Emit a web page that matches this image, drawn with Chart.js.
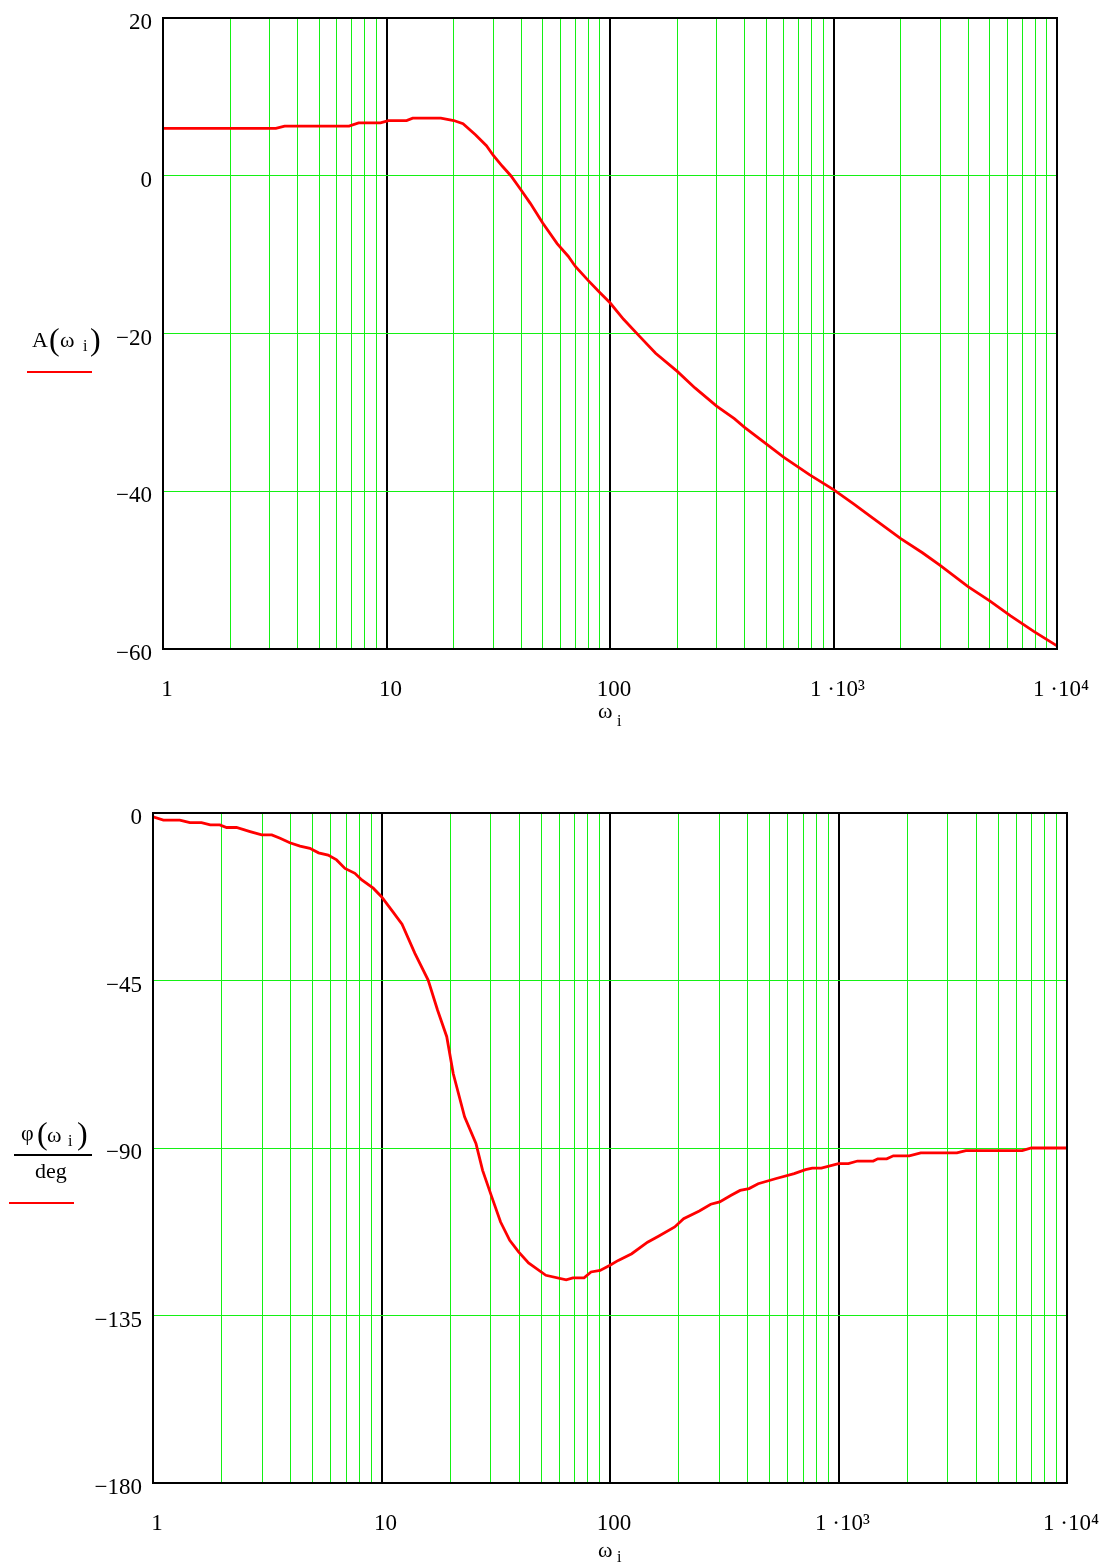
<!DOCTYPE html>
<html>
<head>
<meta charset="utf-8">
<script src="https://cdn.jsdelivr.net/npm/chart.js@4.4.1/dist/chart.umd.min.js"></script>
<style>
  html, body { margin: 0; padding: 0; background: #fff; }
  #wrap { position: relative; width: 1103px; height: 1565px; }
  canvas { position: absolute; left: 0; }
  #ampChart { top: 0; }
  #phaseChart { top: 760px; }
</style>
</head>
<body>
<div id="wrap">
  <canvas id="ampChart" width="1103" height="760"></canvas>
  <canvas id="phaseChart" width="1103" height="805"></canvas>
</div>
<script>
// frequency points and amplitude A(w), dB
const ampOmega = [1, 3.2, 3.5, 6.8, 7.5, 9.4, 10.2, 12.3, 13.1, 17.5, 20, 22, 25, 28, 30, 33, 36, 40, 44, 50,
  58, 65, 70, 80, 90, 100, 115, 135, 160, 200, 240, 300, 360, 400, 500, 600, 780, 1000, 1230, 1500,
  2000, 2500, 3000, 4000, 5000, 6200, 7900, 10000]
const ampDb = [6.0, 6.0, 6.3, 6.3, 6.7, 6.7, 7.0, 7.0, 7.3, 7.3, 7.0, 6.6, 5.2, 3.8, 2.6, 1.2, 0.0, -1.8, -3.5, -6.0,
  -8.6, -10.2, -11.5, -13.3, -14.8, -16.1, -18.2, -20.3, -22.5, -24.8, -26.9, -29.2, -30.8, -31.9, -34.0, -35.7, -37.9, -39.8, -41.6, -43.4,
  -46.0, -47.8, -49.4, -52.1, -53.9, -55.8, -57.8, -59.6]

// frequency points and phase phi(w)/deg
const phaseOmega = [1, 1.11, 1.31, 1.45, 1.63, 1.78, 1.96, 2.1, 2.32, 2.66, 2.99, 3.31, 3.6, 3.97, 4.4, 4.86, 5.3, 5.84, 6.36, 6.92,
  7.65, 8.2, 9.2, 10, 11.2, 12.3, 14, 16, 17.6, 19.3, 20.6, 23.1, 25.9, 27.7, 30.4, 33.2, 36.4, 39.8, 44, 52.4,
  64.3, 68.8, 77, 82.6, 90.5, 100, 108.7, 124.5, 146, 163, 192, 210, 246, 276, 302, 339, 371, 406, 445, 534,
  640, 717, 768, 841, 1000, 1105, 1211, 1419, 1486, 1626, 1738, 2041, 2290, 3296, 3608, 6368, 6980, 10000]
const phaseDeg = [-1.0, -1.9, -1.9, -2.6, -2.6, -3.2, -3.2, -3.9, -3.9, -5.0, -5.9, -5.9, -6.8, -8.0, -8.9, -9.5, -10.7, -11.3, -12.6, -14.9,
  -16.2, -18.0, -20.2, -22.5, -26.5, -29.9, -37.7, -44.9, -53.0, -60.1, -70.0, -81.6, -88.8, -96.0, -103.2, -109.9, -114.8, -117.9, -120.9, -124.2,
  -125.4, -124.9, -124.9, -123.3, -122.9, -121.5, -120.2, -118.4, -115.3, -113.7, -111.2, -109.0, -106.9, -105.1, -104.5, -102.7, -101.4, -100.9, -99.6, -98.2,
  -96.9, -95.8, -95.4, -95.4, -94.2, -94.2, -93.5, -93.5, -92.9, -92.9, -92.1, -92.1, -91.3, -91.3, -90.7, -90.7, -90.0, -90.0]

// grid / tick values
const gridOmega = [1, 2, 3, 4, 5, 6, 7, 8, 9, 10, 20, 30, 40, 50, 60, 70, 80, 90, 100,
  200, 300, 400, 500, 600, 700, 800, 900, 1000, 2000, 3000, 4000, 5000, 6000, 7000, 8000, 9000, 10000]
const decadeValues = [1, 10, 100, 1000, 10000]
const decadeLabels = ['1', '10', '100', '1 \u00b710\u00b3', '1 \u00b710\u2074']
const ampTicks = [20, 0, -20, -40, -60]
const phaseTicks = [0, -45, -90, -135, -180]

const GREEN = 'rgb(20,240,20)'
const RED = '#ff0000'
const SERIF = "'Liberation Serif', 'Times New Roman', serif"

function minusLabel(v) {
  return v < 0 ? '\u2212' + Math.abs(v) : String(v)
}

const framePlugin = {
  id: 'frame',
  afterDatasetsDraw(chart) {
    const a = chart.chartArea
    const ctx = chart.ctx
    ctx.save()
    ctx.strokeStyle = '#000'
    ctx.lineWidth = 2
    ctx.strokeRect(a.left, a.top, a.right - a.left, a.bottom - a.top)
    ctx.restore()
  },
}

function txt(ctx, s, x, y, size) {
  ctx.font = size + 'px ' + SERIF
  ctx.fillText(s, x, y)
}

function hline(ctx, x1, x2, y, color) {
  ctx.strokeStyle = color
  ctx.lineWidth = 2
  ctx.beginPath()
  ctx.moveTo(x1, y)
  ctx.lineTo(x2, y)
  ctx.stroke()
}

function makeChart(id, omega, values, yMin, yMax, yTicks, yWidth, xHeight, pad, titles) {
  const ctx = document.getElementById(id).getContext('2d')
  return new Chart(ctx, {
    type: 'line',
    data: {
      datasets: [
        {
          data: omega.map((w, i) => ({ x: w, y: values[i] })),
          borderColor: RED,
          borderWidth: 2.8,
          pointRadius: 0,
          tension: 0,
          fill: false,
        },
      ],
    },
    options: {
      responsive: false,
      animation: false,
      events: [],
      layout: { padding: pad },
      plugins: { legend: { display: false }, tooltip: { enabled: false } },
      scales: {
        x: {
          type: 'logarithmic',
          min: 1,
          max: 10000,
          afterBuildTicks: (s) => {
            s.ticks = gridOmega.map((v) => ({ value: v }))
          },
          afterFit: (s) => {
            s.height = xHeight
            s.paddingLeft = 0
            s.paddingRight = 0
          },
          border: { display: false },
          grid: {
            drawTicks: false,
            color: (c) => (decadeValues.includes(c.tick.value) ? '#000' : GREEN),
            lineWidth: (c) => (decadeValues.includes(c.tick.value) ? 2 : 1),
          },
          ticks: {
            autoSkip: false,
            maxRotation: 0,
            padding: 27,
            labelOffset: 4,
            color: '#000',
            font: { family: SERIF, size: 23 },
            callback: (v) => {
              const k = decadeValues.indexOf(v)
              return k < 0 ? '' : decadeLabels[k]
            },
          },
        },
        y: {
          type: 'linear',
          min: yMin,
          max: yMax,
          afterBuildTicks: (s) => {
            s.ticks = yTicks.map((v) => ({ value: v }))
          },
          afterFit: (s) => {
            s.width = yWidth
            s.paddingTop = 0
            s.paddingBottom = 0
          },
          border: { display: false },
          grid: { drawTicks: false, color: GREEN, lineWidth: 1 },
          ticks: {
            padding: 11,
            labelOffset: 5,
            color: '#000',
            font: { family: SERIF, size: 23 },
            callback: (v) => minusLabel(v),
          },
        },
      },
    },
    plugins: [
      framePlugin,
      {
        id: 'titles',
        afterDraw(chart) {
          const c = chart.ctx
          c.save()
          c.fillStyle = '#000'
          c.textBaseline = 'alphabetic'
          c.textAlign = 'left'
          titles(c)
          c.restore()
        },
      },
    ],
  })
}

// amplitude chart: plot area 163..1057 x 18..649
makeChart('ampChart', ampOmega, ampDb, -60, 20, ampTicks, 163, 111,
  { top: 18, right: 46, left: 0, bottom: 0 }, (c) => {
    txt(c, 'A', 32, 347, 22)
    txt(c, '(', 49, 350, 32)
    txt(c, '\u03c9', 60, 347, 22)
    txt(c, 'i', 83, 351, 16)
    txt(c, ')', 90, 350, 32)
    hline(c, 27, 92, 372, RED)
    txt(c, '\u03c9', 598, 718, 22)
    txt(c, 'i', 617, 726, 16)
  })

// phase chart: plot area 153..1067 x 813..1483 (canvas offset 760)
makeChart('phaseChart', phaseOmega, phaseDeg, -180, 0, phaseTicks, 153, 82,
  { top: 53, right: 36, left: 0, bottom: 0 }, (c) => {
    const o = 760
    txt(c, '\u03c6', 21, 1140 - o, 22)
    txt(c, '(', 37, 1144 - o, 32)
    txt(c, '\u03c9', 47, 1142 - o, 22)
    txt(c, 'i', 68, 1146 - o, 16)
    txt(c, ')', 77, 1144 - o, 32)
    hline(c, 14, 92, 1155 - o, '#000')
    txt(c, 'deg', 35, 1178 - o, 22)
    hline(c, 9, 74, 1203 - o, RED)
    txt(c, '\u03c9', 598, 1557 - o, 22)
    txt(c, 'i', 617, 1562 - o, 16)
  })
</script>
</body>
</html>
